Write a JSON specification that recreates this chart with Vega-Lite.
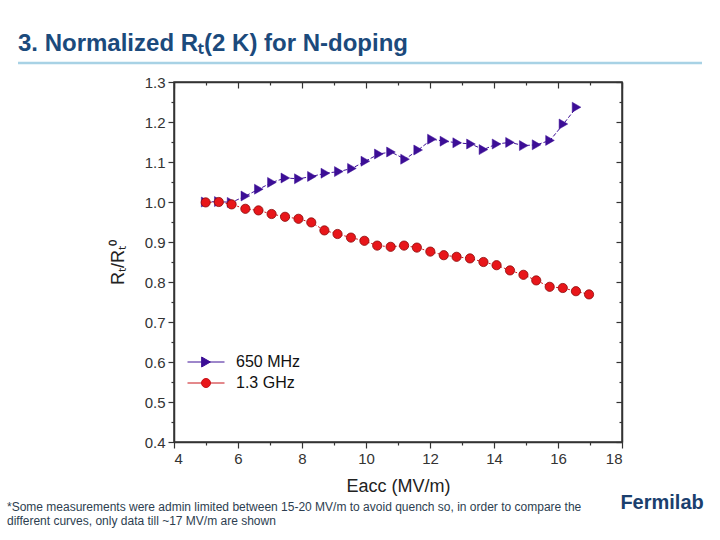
{
  "$schema": "https://vega.github.io/schema/vega-lite/v6.json",
  "width": 448,
  "height": 360,
  "autosize": {"type": "none"},
  "padding": {"left": 174, "top": 82, "right": 98, "bottom": 98},
  "background": "white",
  "config": {
    "font": "Liberation Sans",
    "view": {"stroke": "#333333", "strokeWidth": 1.5},
    "axis": {
      "domainColor": "#333333",
      "domainWidth": 1.5,
      "tickColor": "#333333",
      "tickWidth": 1.2,
      "labelColor": "#333333",
      "titleColor": "#222222",
      "labelFont": "Liberation Sans",
      "titleFont": "Liberation Sans",
      "titleFontWeight": "normal",
      "grid": false
    }
  },
  "title": {
    "text": "3. Normalized Rₜ(2 K) for N-doping",
    "anchor": "start",
    "frame": "group",
    "dx": -156,
    "offset": 6,
    "font": "Liberation Sans",
    "fontSize": 24,
    "fontWeight": "bold",
    "color": "#1b4a7c"
  },
  "data": {
    "values": [
      {"series": "650 MHz", "e": 4.99, "r": 1.000},
      {"series": "650 MHz", "e": 5.40, "r": 1.001},
      {"series": "650 MHz", "e": 5.80, "r": 0.999},
      {"series": "650 MHz", "e": 6.23, "r": 1.015},
      {"series": "650 MHz", "e": 6.65, "r": 1.032},
      {"series": "650 MHz", "e": 7.06, "r": 1.049},
      {"series": "650 MHz", "e": 7.48, "r": 1.060},
      {"series": "650 MHz", "e": 7.90, "r": 1.058},
      {"series": "650 MHz", "e": 8.31, "r": 1.064},
      {"series": "650 MHz", "e": 8.73, "r": 1.072},
      {"series": "650 MHz", "e": 9.15, "r": 1.076},
      {"series": "650 MHz", "e": 9.56, "r": 1.084},
      {"series": "650 MHz", "e": 9.98, "r": 1.102},
      {"series": "650 MHz", "e": 10.40, "r": 1.120},
      {"series": "650 MHz", "e": 10.78, "r": 1.125},
      {"series": "650 MHz", "e": 11.22, "r": 1.107},
      {"series": "650 MHz", "e": 11.63, "r": 1.130},
      {"series": "650 MHz", "e": 12.06, "r": 1.157},
      {"series": "650 MHz", "e": 12.45, "r": 1.152},
      {"series": "650 MHz", "e": 12.85, "r": 1.148},
      {"series": "650 MHz", "e": 13.28, "r": 1.145},
      {"series": "650 MHz", "e": 13.67, "r": 1.131},
      {"series": "650 MHz", "e": 14.08, "r": 1.145},
      {"series": "650 MHz", "e": 14.50, "r": 1.149},
      {"series": "650 MHz", "e": 14.93, "r": 1.141},
      {"series": "650 MHz", "e": 15.33, "r": 1.143},
      {"series": "650 MHz", "e": 15.75, "r": 1.154},
      {"series": "650 MHz", "e": 16.17, "r": 1.195},
      {"series": "650 MHz", "e": 16.58, "r": 1.237},
      {"series": "1.3 GHz", "e": 4.99, "r": 0.999},
      {"series": "1.3 GHz", "e": 5.40, "r": 1.000},
      {"series": "1.3 GHz", "e": 5.80, "r": 0.994},
      {"series": "1.3 GHz", "e": 6.23, "r": 0.983},
      {"series": "1.3 GHz", "e": 6.64, "r": 0.979},
      {"series": "1.3 GHz", "e": 7.05, "r": 0.970},
      {"series": "1.3 GHz", "e": 7.47, "r": 0.963},
      {"series": "1.3 GHz", "e": 7.89, "r": 0.958},
      {"series": "1.3 GHz", "e": 8.29, "r": 0.949},
      {"series": "1.3 GHz", "e": 8.70, "r": 0.929},
      {"series": "1.3 GHz", "e": 9.11, "r": 0.920},
      {"series": "1.3 GHz", "e": 9.53, "r": 0.911},
      {"series": "1.3 GHz", "e": 9.95, "r": 0.903},
      {"series": "1.3 GHz", "e": 10.35, "r": 0.891},
      {"series": "1.3 GHz", "e": 10.77, "r": 0.888},
      {"series": "1.3 GHz", "e": 11.19, "r": 0.891},
      {"series": "1.3 GHz", "e": 11.59, "r": 0.886},
      {"series": "1.3 GHz", "e": 12.01, "r": 0.876},
      {"series": "1.3 GHz", "e": 12.43, "r": 0.867},
      {"series": "1.3 GHz", "e": 12.83, "r": 0.863},
      {"series": "1.3 GHz", "e": 13.25, "r": 0.859},
      {"series": "1.3 GHz", "e": 13.67, "r": 0.850},
      {"series": "1.3 GHz", "e": 14.08, "r": 0.842},
      {"series": "1.3 GHz", "e": 14.50, "r": 0.829},
      {"series": "1.3 GHz", "e": 14.92, "r": 0.818},
      {"series": "1.3 GHz", "e": 15.32, "r": 0.804},
      {"series": "1.3 GHz", "e": 15.74, "r": 0.788},
      {"series": "1.3 GHz", "e": 16.15, "r": 0.785},
      {"series": "1.3 GHz", "e": 16.56, "r": 0.777},
      {"series": "1.3 GHz", "e": 16.97, "r": 0.769}
    ]
  },
  "layer": [
    {
      "data": {"values": [{"part": "title rule"}]},
      "mark": {"type": "rule", "color": "#a8d2e5", "strokeWidth": 2.5},
      "encoding": {
        "x": {"datum": -0.875, "type": "quantitative", "axis": null},
        "x2": {"datum": 20.5},
        "y": {"datum": 1.3475, "type": "quantitative", "axis": null}
      }
    },
    {
      "mark": {"type": "point", "filled": true, "opacity": 0, "size": 100},
      "encoding": {
        "x": {"field": "e", "type": "quantitative", "axis": null},
        "y": {"field": "r", "type": "quantitative", "axis": null},
        "color": {
          "field": "series",
          "type": "nominal",
          "scale": {"domain": ["650 MHz", "1.3 GHz"], "range": ["#3c0e96", "#e8161a"]},
          "legend": {
            "title": null,
            "orient": "none",
            "legendX": 24,
            "legendY": 272,
            "padding": 0,
            "symbolSize": 100,
            "symbolOpacity": 1,
            "symbolStrokeWidth": 1,
            "labelOffset": 22,
            "rowPadding": 5,
            "labelFontSize": 16,
            "labelColor": "#111111",
            "labelFont": "Liberation Sans",
            "encode": {
              "symbols": {
                "update": {
                  "stroke": {"signal": "datum.value === '650 MHz' ? '#3c0e96' : '#c81218'"},
                  "strokeWidth": {"value": 1}
                }
              }
            }
          }
        },
        "shape": {
          "field": "series",
          "type": "nominal",
          "scale": {
            "domain": ["650 MHz", "1.3 GHz"],
            "range": [
              "M-3.7,0H3.7M0.87,0L-0.87,-1L-0.87,1Z",
              "M-3.7,0H-0.9M0.9,0H3.7M0.9,0A0.9,0.9 0 1 1 -0.9,0A0.9,0.9 0 1 1 0.9,0Z"
            ]
          },
          "legend": {"title": null}
        }
      }
    },
    {
      "transform": [{"filter": "datum.series === '650 MHz'"}],
      "mark": {"type": "line", "color": "#3c0e96", "strokeWidth": 1, "strokeDash": [4, 2]},
      "encoding": {
        "x": {"field": "e", "type": "quantitative", "axis": null},
        "y": {"field": "r", "type": "quantitative", "axis": null}
      }
    },
    {
      "transform": [{"filter": "datum.series === '650 MHz'"}],
      "mark": {"type": "point", "shape": "triangle-right", "filled": true, "opacity": 1, "size": 100, "color": "#3c0e96", "stroke": "#3c0e96", "strokeWidth": 0.5},
      "encoding": {
        "x": {
          "field": "e",
          "type": "quantitative",
          "scale": {"domain": [4, 18], "nice": false, "zero": false},
          "axis": {
            "orient": "bottom",
            "values": [4, 5, 6, 7, 8, 9, 10, 11, 12, 13, 14, 15, 16, 17, 18],
            "labelExpr": "datum.value % 2 === 0 ? datum.label : ''",
            "labelOverlap": false,
            "tickSize": {"condition": {"test": "datum.value % 2 === 0", "value": 6}, "value": 3},
            "labelFontSize": 15,
            "labelPadding": 3,
            "title": "Eacc (MV/m)",
            "titleFontSize": 18,
            "titlePadding": 11
          }
        },
        "y": {
          "field": "r",
          "type": "quantitative",
          "scale": {"domain": [0.4, 1.3], "nice": false, "zero": false},
          "axis": {
            "orient": "left",
            "values": [0.4, 0.45, 0.5, 0.55, 0.6, 0.65, 0.7, 0.75, 0.8, 0.85, 0.9, 0.95, 1.0, 1.05, 1.1, 1.15, 1.2, 1.25, 1.3],
            "labelExpr": "round(datum.value * 100) % 10 === 0 ? format(datum.value, '.1f') : ''",
            "labelOverlap": false,
            "tickSize": {"condition": {"test": "round(datum.value * 100) % 10 === 0", "value": 6}, "value": 3},
            "labelFontSize": 15,
            "labelPadding": 3,
            "title": "Rₜ/Rₜ⁰",
            "titleFontSize": 18,
            "titlePadding": 17
          }
        }
      }
    },
    {
      "transform": [{"filter": "datum.series === '1.3 GHz'"}],
      "mark": {"type": "line", "color": "#d4141a", "strokeWidth": 1, "strokeDash": [2, 2]},
      "encoding": {
        "x": {"field": "e", "type": "quantitative", "axis": null},
        "y": {"field": "r", "type": "quantitative", "axis": null}
      }
    },
    {
      "transform": [{"filter": "datum.series === '1.3 GHz'"}],
      "mark": {"type": "point", "shape": "circle", "filled": true, "opacity": 1, "size": 85, "color": "#e8161a", "stroke": "#8a0a0a", "strokeWidth": 0.8},
      "encoding": {
        "x": {
          "field": "e",
          "type": "quantitative",
          "axis": {
            "orient": "top",
            "values": [4, 5, 6, 7, 8, 9, 10, 11, 12, 13, 14, 15, 16, 17, 18],
            "labels": false,
            "tickSize": {"condition": {"test": "datum.value % 2 === 0", "value": -6}, "value": -3},
            "title": null
          }
        },
        "y": {
          "field": "r",
          "type": "quantitative",
          "axis": {
            "orient": "right",
            "values": [0.4, 0.45, 0.5, 0.55, 0.6, 0.65, 0.7, 0.75, 0.8, 0.85, 0.9, 0.95, 1.0, 1.05, 1.1, 1.15, 1.2, 1.25, 1.3],
            "labels": false,
            "tickSize": {"condition": {"test": "round(datum.value * 100) % 10 === 0", "value": -6}, "value": -3},
            "title": null
          }
        }
      }
    },
    {
      "data": {"values": [{"part": "note 1"}]},
      "mark": {"type": "text", "align": "left", "baseline": "middle", "fontSize": 12, "color": "#2d3e50", "font": "Liberation Sans"},
      "encoding": {
        "x": {"datum": -1.22, "type": "quantitative", "axis": null},
        "y": {"datum": 0.2375, "type": "quantitative", "axis": null},
        "text": {"value": "*Some measurements were admin limited between 15-20 MV/m to avoid quench so, in order to compare the"}
      }
    },
    {
      "data": {"values": [{"part": "note 2"}]},
      "mark": {"type": "text", "align": "left", "baseline": "middle", "fontSize": 12, "color": "#2d3e50", "font": "Liberation Sans"},
      "encoding": {
        "x": {"datum": -1.22, "type": "quantitative", "axis": null},
        "y": {"datum": 0.2025, "type": "quantitative", "axis": null},
        "text": {"value": "different curves, only data till ~17 MV/m are shown"}
      }
    },
    {
      "data": {"values": [{"part": "logo"}]},
      "mark": {"type": "text", "align": "left", "baseline": "middle", "fontSize": 20, "fontWeight": "bold", "color": "#1b3f6e", "font": "Liberation Sans"},
      "encoding": {
        "x": {"datum": 17.95, "type": "quantitative", "axis": null},
        "y": {"datum": 0.2475, "type": "quantitative", "axis": null},
        "text": {"value": "Fermilab"}
      }
    }
  ],
  "resolve": {"axis": {"x": "independent", "y": "independent"}}
}
